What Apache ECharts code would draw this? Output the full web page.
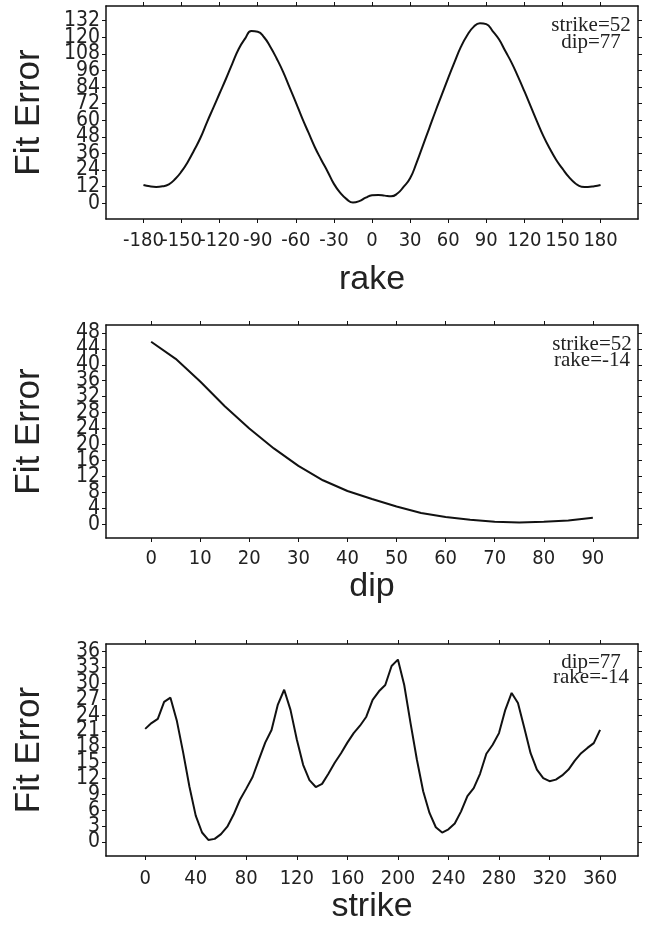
<!DOCTYPE html>
<html>
<head>
<meta charset="utf-8">
<script src="https://cdn.jsdelivr.net/npm/echarts@6/dist/echarts.min.js"></script>
<style>
html,body{margin:0;padding:0;background:#fff;}
#chart{width:646px;height:932px;}
</style>
</head>
<body>
<div id="chart"></div>
<script>
// ---- Panel 1: Fit Error vs rake ----
const rakeValues = [-180,-175,-170,-165,-160,-155,-150,-145,-140,-135,-130,-125,-120,-115,-110,-105,-100,-95,-90,-85,-80,-75,-70,-65,-60,-55,-50,-45,-40,-35,-30,-25,-20,-15,-10,-5,0,5,10,15,20,25,30,35,40,45,50,55,60,65,70,75,80,85,90,95,100,105,110,115,120,125,130,135,140,145,150,155,160,165,170,175,180];
const rakeError = [13.2,12.2,11.8,12.2,13.7,17.5,23,30,38.5,47.5,58.5,69,79.5,90,101,111.5,119,124.5,124,120,113,104.5,95,84,73,61.5,51,40.5,31.5,23,14,7.5,3,0.5,1.5,4,5.8,6,5.5,5,7,12,18,29,41.5,54,66.5,78.5,90.5,102,113,121.5,127.5,130.2,129.5,124.5,118.5,110,101.5,91.5,81,70,59,48.5,39.5,31.5,25,19,14.5,12,11.8,12.3,13.2];
const rakeTicks = [-180,-150,-120,-90,-60,-30,0,30,60,90,120,150,180];
const rakeErrTicks = [0,12,24,36,48,60,72,84,96,108,120,132];

// ---- Panel 2: Fit Error vs dip ----
const dipValues = [0,5,10,15,20,25,30,35,40,45,50,55,60,65,70,75,80,85,90];
const dipError = [45.8,41.5,35.8,29.6,24.0,19.0,14.6,11.0,8.3,6.3,4.4,2.8,1.8,1.1,0.6,0.4,0.6,0.9,1.6];
const dipTicks = [0,10,20,30,40,50,60,70,80,90];
const dipErrTicks = [0,4,8,12,16,20,24,28,32,36,40,44,48];

// ---- Panel 3: Fit Error vs strike ----
const strikeValues = [0,5,10,15,20,25,30,35,40,45,50,55,60,65,70,75,80,85,90,95,100,105,110,115,120,125,130,135,140,145,150,155,160,165,170,175,180,185,190,195,200,205,210,215,220,225,230,235,240,245,250,255,260,265,270,275,280,285,290,295,300,305,310,315,320,325,330,335,340,345,350,355,360];
const strikeError = [21.4,22.5,23.3,26.5,27.3,23.0,17.0,10.5,5.0,1.8,0.4,0.6,1.5,2.9,5.2,8.0,10.1,12.3,15.6,18.8,21.2,26.0,28.8,25.0,19.4,14.6,11.7,10.4,11.0,12.9,15.0,16.8,18.8,20.6,22.0,23.7,26.9,28.5,29.7,33.3,34.5,29.7,22.5,15.6,9.6,5.5,2.8,1.8,2.4,3.5,5.8,8.7,10.2,12.9,16.7,18.4,20.6,25.0,28.2,26.3,21.6,16.8,13.7,12.1,11.5,11.8,12.6,13.7,15.4,16.8,17.8,18.7,21.2];
const strikeTicks = [0,40,80,120,160,200,240,280,320,360];
const strikeErrTicks = [0,3,6,9,12,15,18,21,24,27,30,33,36];

// annotation texts
const notes = [["strike=52","dip=77"],["strike=52","rake=-14"],["dip=77","rake=-14"]];

const SANS = '"Liberation Sans", Arial, Helvetica, sans-serif';
const COND = '"DejaVu Sans Condensed", "Liberation Sans", sans-serif';
const SERIF = '"Liberation Serif", "Times New Roman", serif';
const INK = '#111';

const panels = [
  {x: rakeValues, y: rakeError, xt: rakeTicks, yt: rakeErrTicks, xmin: -209.5, xmax: 209.5, ymin: -11.4, ymax: 142.6, name: 'rake', top: 6, height: 213, smooth: true, nameGap: 44, labelMargin: 12},
  {x: dipValues, y: dipError, xt: dipTicks, yt: dipErrTicks, xmin: -9.2, xmax: 99.2, ymin: -3.5, ymax: 50, name: 'dip', top: 325, height: 213, smooth: false, nameGap: 30, labelMargin: 11},
  {x: strikeValues, y: strikeError, xt: strikeTicks, yt: strikeErrTicks, xmin: -31, xmax: 390, ymin: -2.64, ymax: 37.45, name: 'strike', top: 644, height: 212, smooth: false, nameGap: 30, labelMargin: 13}
];

// Pad the tick lists with the axis ends so that the automatic min/max label
// hiding only removes these (empty) end entries, never a real label.
const padded = (vals, lo, hi) => [lo].concat(vals, [hi]);
const endFormatter = (lo, hi) => (v) => (v === lo || v === hi) ? '' : String(v);

const grid = [], xAxis = [], yAxis = [], series = [];
const line = {show: true, onZero: false, lineStyle: {color: INK, width: 1.5}};
panels.forEach((p, i) => {
  grid.push({left: 106, right: 8, top: p.top, height: p.height, containLabel: false});
  const xs = padded(p.xt, p.xmin, p.xmax), ys = padded(p.yt, p.ymin, p.ymax);
  xAxis.push({
    type: 'value', gridIndex: i, position: 'bottom', min: p.xmin, max: p.xmax,
    axisLine: line,
    axisTick: {show: true, length: 4, customValues: xs, lineStyle: {color: INK, width: 1}},
    axisLabel: {customValues: xs, formatter: endFormatter(p.xmin, p.xmax), fontSize: 20, color: '#222', fontFamily: COND,
      margin: p.labelMargin, showMinLabel: false, showMaxLabel: false, hideOverlap: false},
    splitLine: {show: false},
    name: p.name, nameLocation: 'middle', nameGap: p.nameGap,
    nameTextStyle: {fontSize: 34, color: '#222', fontFamily: SANS, verticalAlign: 'top'}
  });
  xAxis.push({
    type: 'value', gridIndex: i, position: 'top', min: p.xmin, max: p.xmax,
    axisLine: line,
    axisTick: {show: true, length: 4, customValues: p.xt, lineStyle: {color: INK, width: 1}},
    axisLabel: {show: false},
    splitLine: {show: false}
  });
  yAxis.push({
    type: 'value', gridIndex: i, position: 'left', min: p.ymin, max: p.ymax,
    axisLine: line,
    axisTick: {show: true, length: 4, customValues: ys, lineStyle: {color: INK, width: 1}},
    axisLabel: {customValues: ys, formatter: endFormatter(p.ymin, p.ymax), fontSize: 21, color: '#222', fontFamily: COND,
      margin: 6, showMinLabel: false, showMaxLabel: false, hideOverlap: false},
    splitLine: {show: false},
    name: 'Fit Error', nameLocation: 'middle', nameRotate: 90, nameGap: 59,
    nameTextStyle: {fontSize: 35, color: '#222', fontFamily: SANS}
  });
  yAxis.push({
    type: 'value', gridIndex: i, position: 'right', min: p.ymin, max: p.ymax,
    axisLine: line,
    axisTick: {show: true, length: 4, customValues: p.yt, lineStyle: {color: INK, width: 1}},
    axisLabel: {show: false},
    splitLine: {show: false}
  });
  series.push({
    type: 'line', xAxisIndex: 2 * i, yAxisIndex: 2 * i,
    data: p.x.map((v, k) => [v, p.y[k]]),
    smooth: p.smooth, showSymbol: false, symbol: 'none',
    lineStyle: {color: INK, width: 2}, silent: true, animation: false
  });
});

const noteStyle = (t, lh) => ({text: t.join('\n'), font: '21px ' + SERIF, fill: '#222', textAlign: 'center', align: 'center', lineHeight: lh});
const graphic = [
  {type: 'text', x: 591, y: 17, style: noteStyle(notes[0], 17)},
  {type: 'text', x: 592, y: 336, style: noteStyle(notes[1], 16)},
  {type: 'text', x: 591, y: 655, style: noteStyle(notes[2], 15)}
];

const chart = echarts.init(document.getElementById('chart'), null, {renderer: 'canvas'});
chart.setOption({animation: false, backgroundColor: '#fff', grid, xAxis, yAxis, series, graphic});
</script>
</body>
</html>
